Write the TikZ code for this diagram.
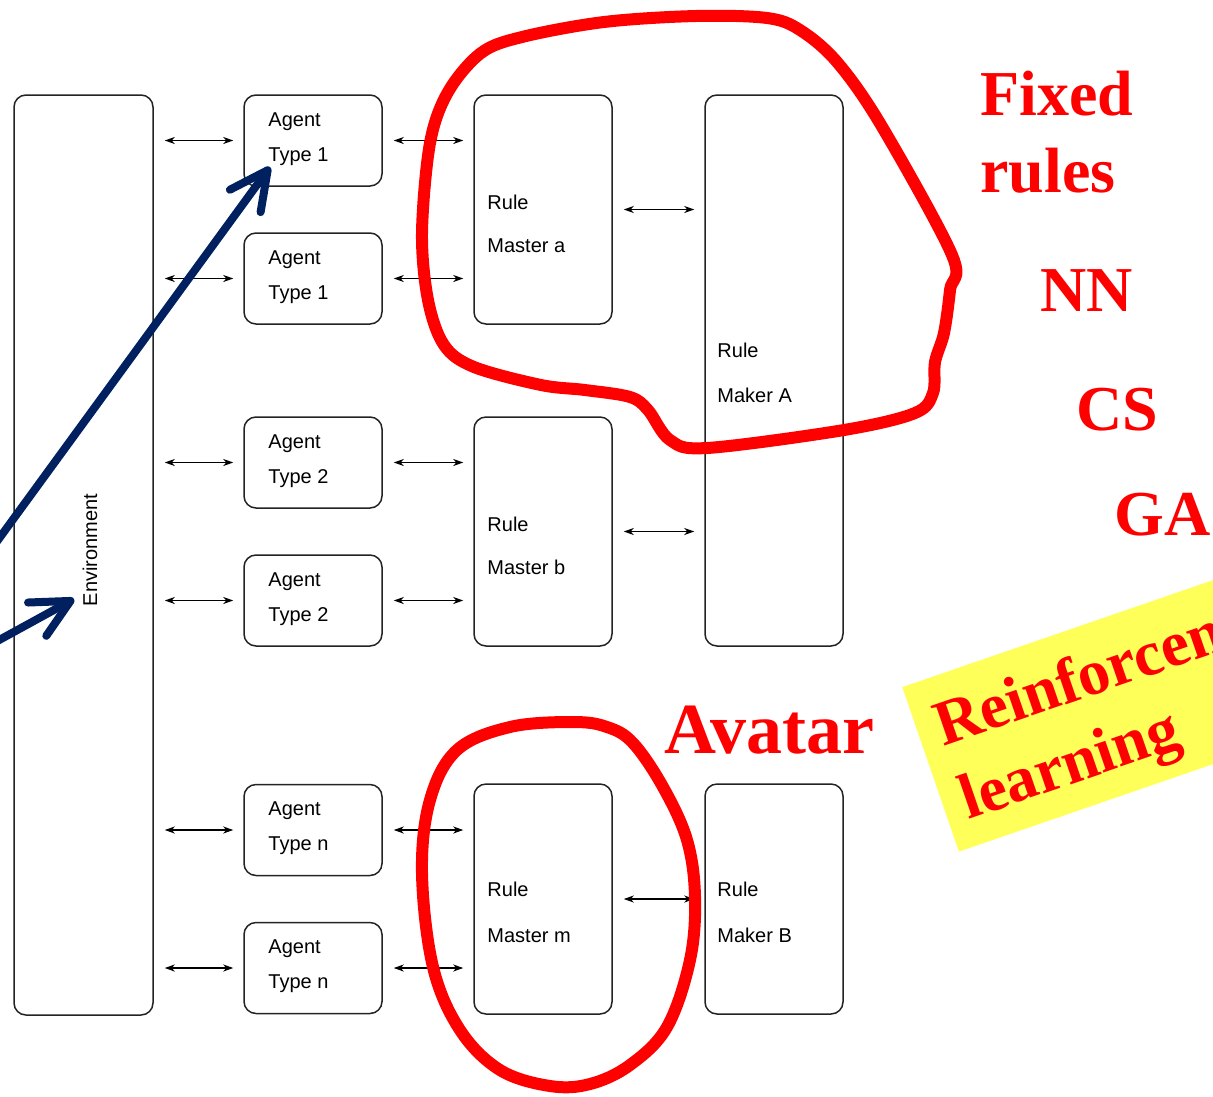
\documentclass[tikz,border=0pt]{standalone}
\usepackage{fontspec}
\setmainfont{Liberation Serif}
\newfontfamily\diagfont{Liberation Sans}
\usetikzlibrary{arrows.meta}
\definecolor{navyarrow}{RGB}{0,32,96}
\definecolor{rlyellow}{RGB}{255,255,90}
\definecolor{boxline}{RGB}{35,35,35}
\tikzset{
  box/.style={draw=boxline, line width=1.5pt, rounded corners=12pt, inner sep=0pt, minimum width=138pt},
  lbl/.style={anchor=base west, inner sep=0pt, font=\diagfont\fontsize{20}{24}\selectfont},
  dbl/.style={line width=1.3pt, {Stealth[length=10pt,width=7pt,inset=3pt]}-{Stealth[length=10pt,width=7pt,inset=3pt]}, shorten <=11pt, shorten >=10pt},
  redtxt/.style={anchor=base west, inner sep=0pt, text=red, font=\bfseries\fontsize{64}{77}\selectfont},
  blob/.style={draw=red, line width=12pt, line join=round},
  bluearrow/.style={draw=navyarrow, line width=8pt, line cap=round, -{Straight Barb[length=38pt,width=38pt,round]}}
}
\begin{document}
\begin{tikzpicture}[x=1pt, y=-1pt]
\useasboundingbox (0,0) rectangle (1213,1096);
\clip (0,0) rectangle (1213,1096);

% boxes
\node[box, minimum width=139pt, minimum height=920pt] (env) at (83.5,555) {};
\node[box, minimum height=91pt] (ag1) at (313,140.5) {};
\node[box, minimum height=91pt] (ag2) at (313,278.5) {};
\node[box, minimum height=91pt] (ag3) at (313,462.5) {};
\node[box, minimum height=91pt] (ag4) at (313,600.5) {};
\node[box, minimum height=91pt] (ag5) at (313,830) {};
\node[box, minimum height=91pt] (ag6) at (313,968) {};
\node[box, minimum height=229pt] (ma) at (543,209.5) {};
\node[box, minimum height=229pt] (mb) at (543,531.5) {};
\node[box, minimum height=230pt] (mm) at (543,899) {};
\node[box, minimum height=551pt] (mkA) at (774,370.5) {};
\node[box, minimum height=230pt] (mkB) at (774,899) {};

% labels
\node[lbl, rotate=90, anchor=center] (envt) at (90,550) {Environment};
\foreach \a/\t in {ag1/1, ag2/1, ag3/2, ag4/2, ag5/n, ag6/n} {
  \node[lbl] (\a l1) at ([xshift=25pt, yshift=-32pt]\a.north west) {Agent};
  \node[lbl] (\a l2) at ([xshift=25pt, yshift=-67pt]\a.north west) {Type \t};
}
\node[lbl] (mal1) at ([xshift=14pt, yshift=-115pt]ma.north west) {Rule};
\node[lbl] (mal2) at ([xshift=14pt, yshift=-158pt]ma.north west) {Master a};
\node[lbl] (mbl1) at ([xshift=14pt, yshift=-115pt]mb.north west) {Rule};
\node[lbl] (mbl2) at ([xshift=14pt, yshift=-158pt]mb.north west) {Master b};
\node[lbl] (mml1) at ([xshift=14pt, yshift=-113pt]mm.north west) {Rule};
\node[lbl] (mml2) at ([xshift=14pt, yshift=-159pt]mm.north west) {Master m};
\node[lbl] (mkAl1) at ([xshift=13pt, yshift=-263pt]mkA.north west) {Rule};
\node[lbl] (mkAl2) at ([xshift=13pt, yshift=-308pt]mkA.north west) {Maker A};
\node[lbl] (mkBl1) at ([xshift=13pt, yshift=-113pt]mkB.north west) {Rule};
\node[lbl] (mkBl2) at ([xshift=13pt, yshift=-159pt]mkB.north west) {Maker B};

% double arrows
\foreach \a in {ag1,ag2,ag3,ag4,ag5,ag6} {
  \draw[dbl] (env.east |- \a.west) -- (\a.west);
}
\foreach \a/\m in {ag1/ma, ag2/ma, ag3/mb, ag4/mb, ag5/mm, ag6/mm} {
  \draw[dbl] (\a.east) -- (\a.east -| \m.west);
}
\foreach \m/\k in {ma/mkA, mb/mkA, mm/mkB} {
  \draw[dbl] (\m.east) -- (\m.east -| \k.west);
}

% red outlines
\draw[blob] plot[smooth cycle, tension=0.55] coordinates {
  (422,233) (430,143) (448,92) (481,53) (522,37) (604,22) (696,16) (767,18)
  (800,30) (837,62) (881,125) (952,255) (950,290) (944,333) (935,362) (933,393)
  (915,413) (844,430) (707,448) (670,440) (648,410) (630,397) (585,390)
  (541,385) (474,367) (444,345) (428,300)};
\draw[blob] plot[smooth cycle, tension=0.6] coordinates {
  (573,722) (510,727) (457,750) (430,800) (422,873) (433,967) (460,1030)
  (500,1070) (550,1086) (590,1084) (630,1065) (667,1027) (690,960) (695,897)
  (687,840) (663,787) (633,743) (607,727)};

% red texts
\node[redtxt] (fixed) at (980,115) {Fixed};
\node[redtxt] (rules) at (980,192) {rules};
\node[redtxt] (nn) at (1040,311) {NN};
\node[redtxt] (cs) at (1076,430) {CS};
\node[redtxt] (ga) at (1114,535) {GA};
\node[redtxt, font=\bfseries\fontsize{72}{86}\selectfont] (avatar) at (664,753) {Avatar};

% yellow label
\node[rotate=19, anchor=north west, fill=rlyellow, minimum width=520pt, minimum height=174pt, inner sep=0pt] (rlbox) at (902,687) {};
\node[redtxt, rotate=19] (rl1) at (943,747) {Reinforcement};
\node[redtxt, rotate=19] (rl2) at (968,820) {learning};

% blue arrows
\coordinate (b1s) at (-10,551);
\coordinate (b1e) at (270,167);
\coordinate (b2s) at (-10,645);
\coordinate (b2e) at (74,599);
\draw[bluearrow] (b1s) -- (b1e);
\draw[bluearrow] (b2s) -- (b2e);
\end{tikzpicture}
\end{document}
